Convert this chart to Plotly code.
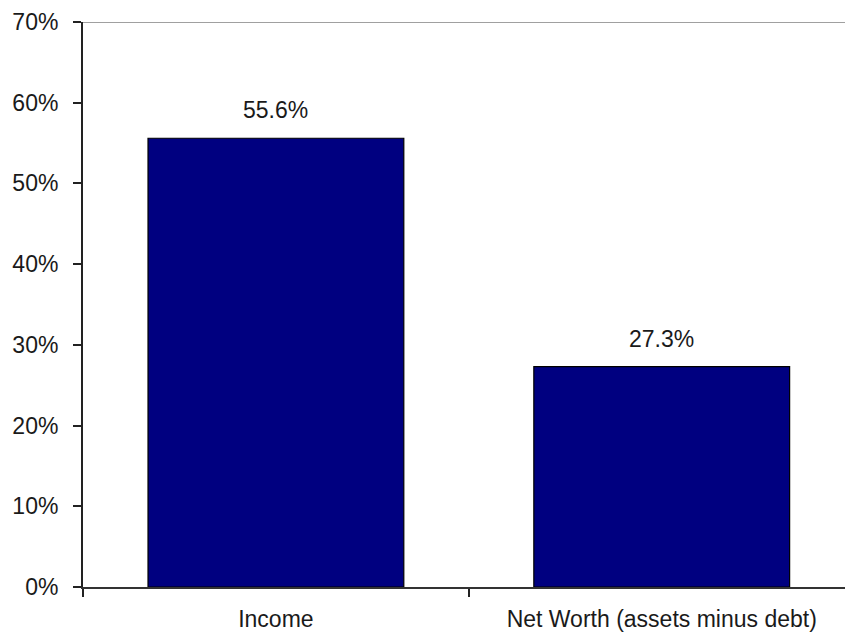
import plotly.graph_objects as go

categories = ["Income", "Net Worth (assets minus debt)"]
values = [0.556, 0.273]
value_labels = ["55.6%", "27.3%"]
y_tickvals = [0, 0.1, 0.2, 0.3, 0.4, 0.5, 0.6, 0.7]
y_ticktext = ["0%", "10%", "20%", "30%", "40%", "50%", "60%", "70%"]

FONT = "Liberation Sans, Arial, sans-serif"
FS = 23

fig = go.Figure()
fig.add_trace(go.Bar(
    x=categories, y=values,
    marker=dict(color="#000080", line=dict(color="#000000", width=1.2)),
    width=0.663,
    hoverinfo="skip",
))

for c, v, t in zip(categories, values, value_labels):
    fig.add_annotation(x=c, y=v, text=t, showarrow=False, yshift=28,
                       font=dict(family=FONT, size=FS, color="#1a1a1a"))

# plot-area top border (gray)
fig.add_shape(type="line", xref="paper", yref="y", x0=0, x1=1, y0=0.7, y1=0.7,
              line=dict(color="#a0a0a0", width=2))

fig.update_layout(
    width=845, height=635,
    margin=dict(l=83, r=0, t=22, b=48),
    paper_bgcolor="white", plot_bgcolor="white",
    showlegend=False,
    font=dict(family=FONT, size=FS, color="#1a1a1a"),
    xaxis=dict(
        type="category",
        range=[-0.5, 1.475],
        tickson="boundaries",
        ticks="outside", ticklen=8, tickcolor="#222", tickwidth=1.5,
        showline=True, linecolor="#333", linewidth=2,
        showgrid=False, zeroline=False,
        tickfont=dict(family=FONT, size=FS, color="#1a1a1a"),
        ticklabelstandoff=10,
    ),
    yaxis=dict(
        range=[0, 0.7],
        tickvals=y_tickvals, ticktext=y_ticktext,
        ticks="outside", ticklen=8, tickcolor="#222", tickwidth=1.5,
        showline=True, linecolor="#222", linewidth=2,
        showgrid=False, zeroline=False,
        tickfont=dict(family=FONT, size=FS, color="#1a1a1a"),
        ticklabelstandoff=10,
    ),
)

fig.write_html("out.html")
